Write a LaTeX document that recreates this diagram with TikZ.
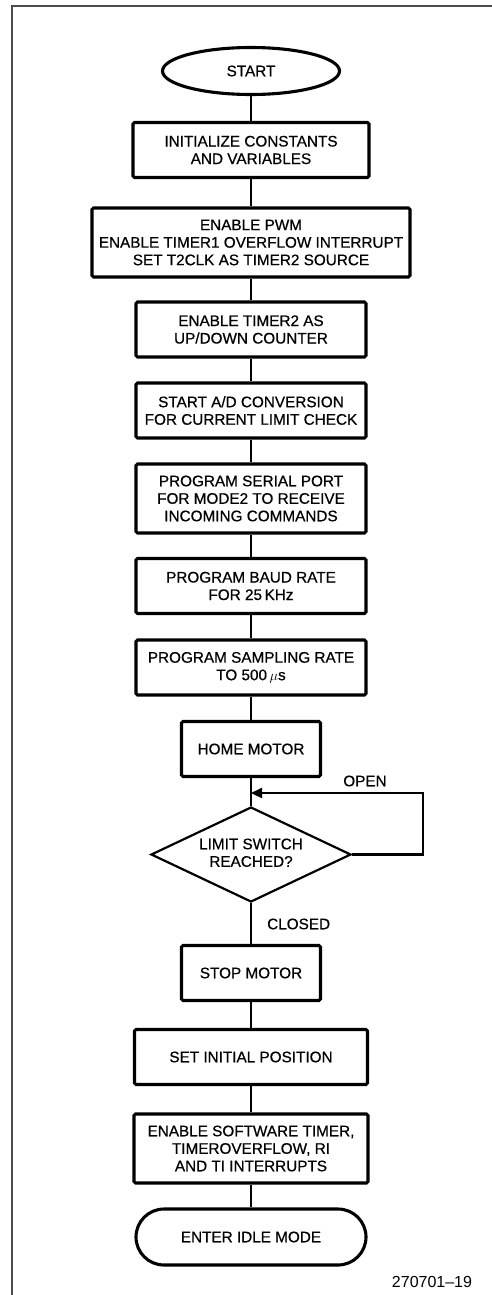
\documentclass[tikz,border=0pt]{standalone}
\usepackage{fontspec}
\setmainfont[FakeBold=0.6,AutoFakeBold=0.6]{Liberation Sans}
\newfontfamily\plainfont[Ligatures=TeX]{Liberation Sans}
\usetikzlibrary{shapes.geometric,arrows.meta}
\tikzset{
  every node/.style={font=\fontsize{15.3}{17.5}\selectfont},
  procbox/.style={draw, line width=3.1pt, rounded corners=1.5pt, align=center, inner sep=0pt, minimum height=55pt},
  termbox/.style={draw, line width=3.1pt, align=center, inner sep=0pt},
  decbox/.style={draw, diamond, line width=2.2pt, align=center, inner sep=0pt, aspect=2.1, minimum width=200pt, minimum height=95pt},
  conn/.style={line width=2.6pt},
  loopline/.style={line width=2.2pt},
  frameline/.style={line width=1.5pt, black!70},
  lbl/.style={inner sep=0pt}
}
\begin{document}
\begin{tikzpicture}[x=1pt,y=-1pt]
\useasboundingbox (0,0) rectangle (492,1295);
\draw[frameline] (12,1295) -- (12,6) -- (492,6);

\node[termbox, ellipse, minimum width=177pt, minimum height=47pt] (start) at (251,71) {START};
\node[procbox, minimum width=236pt] (b1) at (251,150) {INITIALIZE CONSTANTS\\AND VARIABLES};
\node[procbox, minimum width=318pt, minimum height=69pt] (b2) at (251,242.5) {ENABLE PWM\\ENABLE TIMER1 OVERFLOW INTERRUPT\\SET T2CLK AS TIMER2 SOURCE};
\node[procbox, minimum width=230pt] (b3) at (251,329.5) {ENABLE TIMER2 AS\\UP/DOWN COUNTER};
\node[procbox, minimum width=230pt] (b4) at (251,410.5) {START A/D CONVERSION\\FOR CURRENT LIMIT CHECK};
\node[procbox, minimum width=230pt, minimum height=69pt] (b5) at (251,498.5) {PROGRAM SERIAL PORT\\FOR MODE2 TO RECEIVE\\INCOMING COMMANDS};
\node[procbox, minimum width=230pt] (b6) at (251,586) {PROGRAM BAUD RATE\\FOR 25\,KHz};
\node[procbox, minimum width=230pt] (b7) at (251,667.5) {PROGRAM SAMPLING RATE\\TO 500\,$\mu$s};
\node[procbox, minimum width=139pt] (home) at (251,749) {HOME MOTOR};
\node[decbox] (dia) at (251,854.5) {\raisebox{-4pt}{\begin{tabular}{@{}c@{}}LIMIT SWITCH\\REACHED?\end{tabular}}};
\node[procbox, minimum width=139pt] (stop) at (251,973) {STOP MOTOR};
\node[procbox, minimum width=233pt] (setpos) at (251,1057) {SET INITIAL POSITION};
\node[procbox, minimum width=234pt, minimum height=69pt] (b11) at (251,1148.5) {ENABLE SOFTWARE TIMER,\\TIMEROVERFLOW, RI\\AND TI INTERRUPTS};
\node[termbox, rounded corners=28pt, minimum width=230pt, minimum height=56pt] (idle) at (251,1237) {ENTER IDLE MODE};

\coordinate (join) at (251,793);
\coordinate (loopR) at (423,793);

\draw[conn] (start) -- (b1);
\draw[conn] (b1) -- (b2);
\draw[conn] (b2) -- (b3);
\draw[conn] (b3) -- (b4);
\draw[conn] (b4) -- (b5);
\draw[conn] (b5) -- (b6);
\draw[conn] (b6) -- (b7);
\draw[conn] (b7) -- (home);
\draw[conn] (home) -- (dia);
\draw[loopline, -{Triangle[length=11pt,width=10pt]}] (dia.east) -| (loopR) -- (join);
\draw[conn] (dia) -- (stop);
\draw[conn] (stop) -- (setpos);
\draw[conn] (setpos) -- (b11);
\draw[conn] (b11) -- (idle);

\node[lbl] (open) at (365,781) {OPEN};
\node[lbl, anchor=west] (closed) at (267,924) {CLOSED};
\node[lbl, font=\plainfont\fontsize{16}{18}\selectfont] (fig) at (432,1282) {270701–19};
\end{tikzpicture}
\end{document}
